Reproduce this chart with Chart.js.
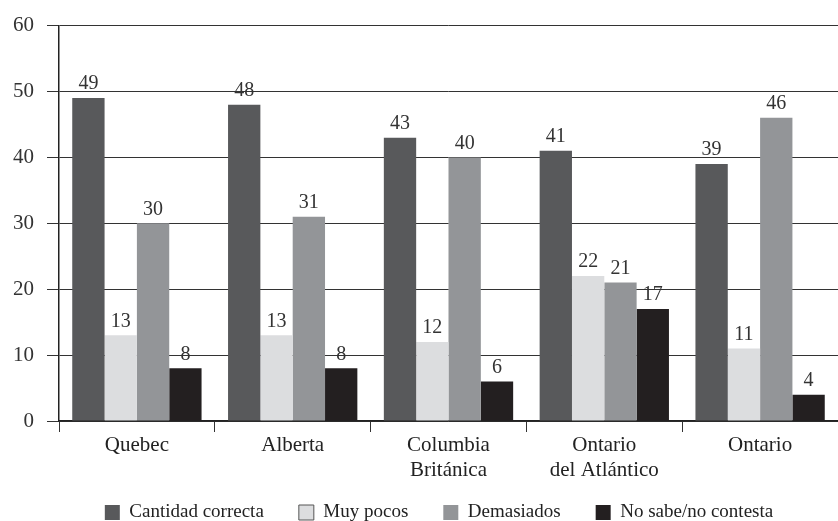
<!DOCTYPE html>
<html lang="es">
<head>
  <meta charset="UTF-8" />
  <title>Cantidad correcta por provincia</title>
  <style>
    body { margin: 0; padding: 0; background: white; }
    .chart-box { width: 838px; height: 521px; position: relative; }
  </style>
</head>
<body>
<div class="chart-box">
  <canvas id="barChart"></canvas>
</div>

<script src="https://cdn.jsdelivr.net/npm/chart.js"></script>
<script>
const categories = ['Quebec', 'Alberta', ['Columbia', 'Británica'], ['Ontario', 'del Atlántico'], 'Ontario'];
const seriesNames = ['Cantidad correcta', 'Muy pocos', 'Demasiados', 'No sabe/no contesta'];
const cantidadCorrecta = [49, 48, 43, 41, 39];
const muyPocos = [13, 13, 12, 22, 11];
const demasiados = [30, 31, 40, 21, 46];
const noSabe = [8, 8, 6, 17, 4];
const yTicks = [0, 10, 20, 30, 40, 50, 60];

const colors = ['#58595b', '#dcdddf', '#939598', '#231f20'];
const serif = "'Liberation Serif', 'DejaVu Serif', serif";

// draw the number above each bar
const valueLabels = {
  id: 'valueLabels',
  afterDatasetsDraw(chart) {
    const ctx = chart.ctx;
    ctx.save();
    ctx.font = '20px ' + serif;
    ctx.fillStyle = '#333';
    ctx.textAlign = 'center';
    ctx.textBaseline = 'bottom';
    chart.data.datasets.forEach((ds, i) => {
      chart.getDatasetMeta(i).data.forEach((bar, j) => {
        ctx.fillText(ds.data[j], bar.x, bar.y - 4);
      });
    });
    ctx.restore();
  }
};

// legend keeps wide gaps between items but a short box height;
// x axis is squeezed, so let its two-line labels run past its box
const legendHeight = {
  id: 'legendHeight',
  beforeInit(chart) {
    const fit = chart.legend.fit;
    chart.legend.fit = function () {
      fit.bind(chart.legend)();
      this.height = 53;
    };
  },
  afterLayout(chart) {
    chart.legend.left += 20;
    chart.legend.right += 20;
    chart.scales.x.bottom = chart.height;
  }
};

const allSeries = [cantidadCorrecta, muyPocos, demasiados, noSabe];

new Chart(document.getElementById('barChart').getContext('2d'), {
  type: 'bar',
  data: {
    labels: categories,
    datasets: allSeries.map((vals, i) => ({
      label: seriesNames[i],
      data: vals,
      backgroundColor: colors[i],
      borderWidth: 0,
      barPercentage: 1,
      categoryPercentage: 0.83
    }))
  },
  options: {
    responsive: true,
    maintainAspectRatio: false,
    animation: false,
    layout: { padding: { left: 0, right: 0, top: 4, bottom: 0 } },
    scales: {
      x: {
        afterFit: axis => { axis.height = 47; },
        grid: {
          display: true,
          drawOnChartArea: false,
          offset: true,
          color: '#333',
          tickLength: 11
        },
        border: { display: true, color: '#222', width: 1.5 },
        ticks: {
          color: '#222',
          font: { family: serif, size: 21, lineHeight: 1.2 },
          padding: 1,
          maxRotation: 0,
          autoSkip: false
        }
      },
      y: {
        min: 0,
        max: 60,
        afterBuildTicks: axis => { axis.ticks = yTicks.map(v => ({ value: v })); },
        grid: { color: '#333', lineWidth: 1, tickLength: 12 },
        border: { display: true, color: '#222', width: 1.5 },
        ticks: {
          color: '#333',
          font: { family: serif, size: 21 },
          padding: 13
        }
      }
    },
    plugins: {
      legend: {
        display: true,
        position: 'bottom',
        labels: {
          boxWidth: 15,
          boxHeight: 15,
          padding: 35,
          color: '#222',
          font: { family: serif, size: 19 },
          generateLabels(chart) {
            const items = Chart.defaults.plugins.legend.labels.generateLabels(chart);
            items.forEach((it, i) => {
              it.lineWidth = i === 1 ? 1 : 0;
              it.strokeStyle = '#555';
            });
            return items;
          }
        }
      },
      tooltip: { enabled: false }
    }
  },
  plugins: [valueLabels, legendHeight]
});
</script>
</body>
</html>
